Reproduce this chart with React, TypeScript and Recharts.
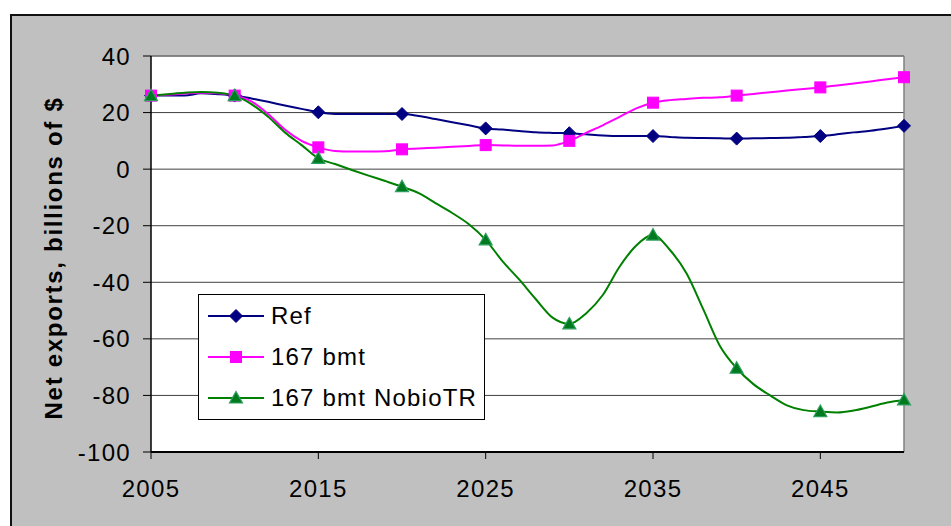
import React from 'react';
import {
  LineChart,
  Line,
  XAxis,
  YAxis,
  CartesianGrid,
  Legend,
  ReferenceLine,
} from 'recharts';

const years = [
  2005, 2006, 2007, 2008, 2009, 2010, 2011, 2012, 2013, 2014,
  2015, 2016, 2017, 2018, 2019, 2020, 2021, 2022, 2023, 2024,
  2025, 2026, 2027, 2028, 2029, 2030, 2031, 2032, 2033, 2034,
  2035, 2036, 2037, 2038, 2039, 2040, 2041, 2042, 2043, 2044,
  2045, 2046, 2047, 2048, 2049, 2050,
];

const refValues = [
  26, 26, 26, 26.8, 26.5, 26, 25, 23.8, 22.5, 21.3,
  20.1, 19.5, 19.5, 19.5, 19.5, 19.5, 18.8, 17.7, 16.6, 15.5,
  14.4, 14, 13.5, 13, 12.8, 12.7, 12.3, 11.9, 11.7, 11.7,
  11.7, 11.4, 11.1, 11, 10.9, 10.8, 10.9, 11, 11.1, 11.4,
  11.7, 12.3, 13, 13.6, 14.4, 15.3,
];

const bmtValues = [
  26, 26.3, 26.7, 27, 26.8, 26, 24, 19.5, 14, 10,
  7.7, 6.4, 6.2, 6.2, 6.3, 7, 7.3, 7.6, 7.9, 8.2,
  8.5, 8.4, 8.3, 8.3, 8.4, 10, 12.8, 15.5, 18.5, 21.5,
  23.5, 24.4, 24.8, 25.2, 25.4, 26, 26.6, 27.2, 27.8, 28.3,
  28.9, 29.6, 30.3, 31, 31.8, 32.5,
];

const nobioValues = [
  26, 26.5, 27, 27.3, 27, 26, 23, 18.5, 13, 8.5,
  3.8, 1.8, -0.3, -2.3, -4.2, -6.2, -8.5, -12, -15.5, -19.5,
  -25, -32.5, -39, -46, -52.5, -54.7, -51, -44.5, -34.5, -27,
  -23.3, -28.5, -36.8, -49.5, -62.5, -70.4, -76, -80, -83.5, -85.2,
  -85.7, -86, -85.3, -84, -82.5, -81.6,
];

const xTicks = [2005, 2015, 2025, 2035, 2045];
const yTicks = [-100, -80, -60, -40, -20, 0, 20, 40];

const data = years.map((year, i) => ({
  year,
  ref: refValues[i],
  bmt: bmtValues[i],
  nobio: nobioValues[i],
}));

const FONT = '"Liberation Sans", Arial, sans-serif';

const NAVY = '#000080';
const PINK = '#FF00FF';
const GREEN = '#008000';

const diamond = (cx: number, cy: number, key?: string) => (
  <path key={key} d={`M${cx},${cy - 6.5}L${cx + 6.5},${cy}L${cx},${cy + 6.5}L${cx - 6.5},${cy}Z`} fill={NAVY} stroke={NAVY} strokeWidth={1} />
);
const square = (cx: number, cy: number, key?: string) => (
  <rect key={key} x={cx - 5.5} y={cy - 5.5} width={11} height={11} fill={PINK} stroke={PINK} strokeWidth={1} />
);
const triangle = (cx: number, cy: number, key?: string) => (
  <path key={key} d={`M${cx},${cy - 6.5}L${cx + 6.5},${cy + 5}L${cx - 6.5},${cy + 5}Z`} fill="#007A1F" stroke="#2E9E5E" strokeWidth={1.2} />
);

// markers only every 5 years, the lines are yearly
const markerDot = (shape: typeof diamond) => (props: any) => {
  const { cx, cy, payload, index } = props;
  const key = `dot-${index}`;
  if (payload.year % 5 !== 0 || cx == null || cy == null) return <g key={key} />;
  return shape(cx, cy, key);
};

const legendItems = [
  { label: 'Ref', color: NAVY, shape: diamond },
  { label: '167 bmt', color: PINK, shape: square },
  { label: '167 bmt NobioTR', color: GREEN, shape: triangle },
];

const renderLegend = () => (
  <div
    style={{
      width: 287,
      height: 126,
      boxSizing: 'border-box',
      border: '1px solid #000',
      background: '#fff',
      fontFamily: FONT,
      fontSize: 24,
      letterSpacing: 1.2,
      color: '#000',
      paddingTop: 0,
    }}
  >
    {legendItems.map((it) => (
      <div key={it.label} style={{ display: 'flex', alignItems: 'center', height: 41, paddingLeft: 9 }}>
        <svg width={58} height={20} style={{ marginRight: 5 }}>
          <line x1={0} y1={10} x2={56} y2={10} stroke={it.color} strokeWidth={2} />
          {it.shape(28, 10)}
        </svg>
        <span style={{ whiteSpace: 'nowrap' }}>{it.label}</span>
      </div>
    ))}
  </div>
);

const renderYLabel = (props: any) => {
  const vb = props.viewBox || { x: 0, y: 56, width: 151, height: 396 };
  const x = vb.x + 53;
  const y = vb.y + vb.height / 2 + 4;
  return (
    <text
      x={x}
      y={y}
      transform={`rotate(-90, ${x}, ${y})`}
      textAnchor="middle"
      dominantBaseline="central"
      fontFamily={FONT}
      fontSize={24}
      fontWeight="bold"
      letterSpacing={1.7}
      fill="#000"
    >
      Net exports, billions of $
    </text>
  );
};

const tickStyle = { fill: '#000', fontSize: 24, fontFamily: FONT, letterSpacing: 1.3 };

export default function App() {
  return (
    <div style={{ position: 'absolute', left: 0, top: 0, width: 951, height: 526, overflow: 'hidden', background: '#fff' }}>
      <div
        style={{
          position: 'absolute',
          left: 10,
          top: 14,
          width: 960,
          height: 530,
          background: '#C0C0C0',
          borderTop: '2px solid #111',
          borderLeft: '2px solid #111',
        }}
      />
      <div style={{ position: 'absolute', left: 0, top: 0 }}>
        <LineChart width={951} height={526} data={data} margin={{ top: 56, right: 47, bottom: 0, left: 0 }}>
          <CartesianGrid horizontal vertical={false} fill="#fff" fillOpacity={1} stroke="#404040" strokeWidth={1} />
          <XAxis
            dataKey="year"
            type="number"
            domain={[2005, 2050]}
            ticks={xTicks}
            height={74}
            tickSize={7}
            tickMargin={21}
            axisLine={{ stroke: '#000', strokeWidth: 2 }}
            tickLine={{ stroke: '#000', strokeWidth: 1 }}
            tick={tickStyle}
          />
          <YAxis
            type="number"
            domain={[-100, 40]}
            ticks={yTicks}
            width={151}
            tickSize={8}
            tickMargin={12}
            axisLine={{ stroke: '#000', strokeWidth: 1.5 }}
            tickLine={{ stroke: '#000', strokeWidth: 1 }}
            tick={tickStyle}
            label={{ content: renderYLabel }}
          />
          <ReferenceLine y={40} stroke="#808080" strokeWidth={1.5} />
          <ReferenceLine x={2050} stroke="#808080" strokeWidth={1.5} />
          <Legend
            layout="vertical"
            align="center"
            verticalAlign="middle"
            content={renderLegend}
            wrapperStyle={{ left: 198, top: 294, width: 287, height: 126 }}
          />
          <Line
            type="monotone"
            dataKey="ref"
            name="Ref"
            stroke={NAVY}
            strokeWidth={2}
            dot={markerDot(diamond)}
            activeDot={false}
            isAnimationActive={false}
          />
          <Line
            type="monotone"
            dataKey="bmt"
            name="167 bmt"
            stroke={PINK}
            strokeWidth={2}
            dot={markerDot(square)}
            activeDot={false}
            isAnimationActive={false}
          />
          <Line
            type="monotone"
            dataKey="nobio"
            name="167 bmt NobioTR"
            stroke={GREEN}
            strokeWidth={2}
            dot={markerDot(triangle)}
            activeDot={false}
            isAnimationActive={false}
          />
        </LineChart>
      </div>
    </div>
  );
}
